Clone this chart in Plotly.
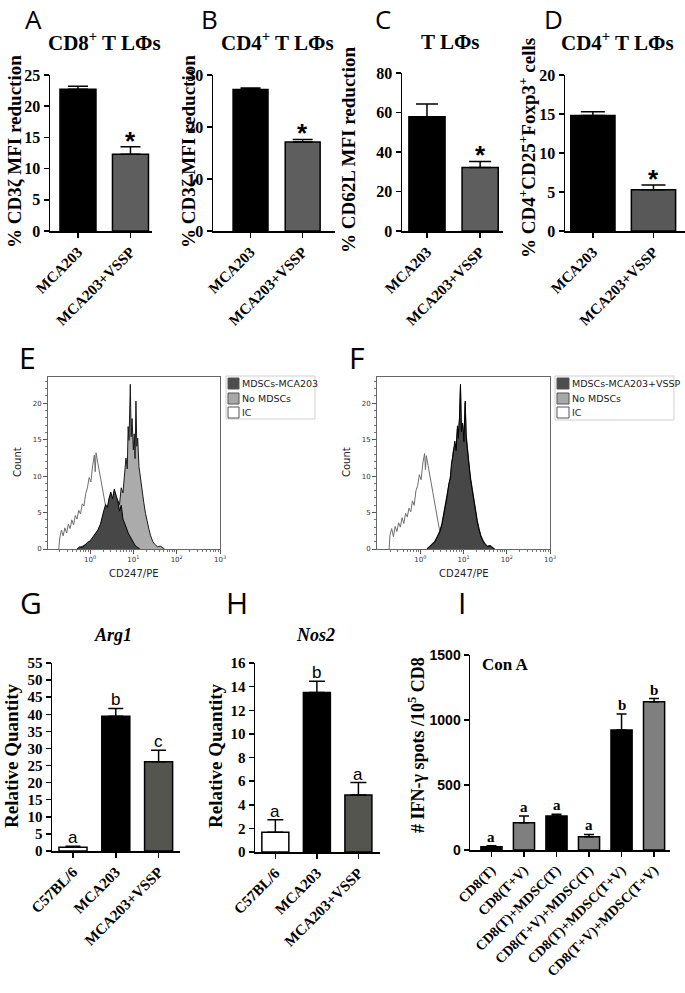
import numpy as np
import plotly.graph_objects as go

W, H = 685, 993
SERIF = "Liberation Serif"
SANS = "Liberation Sans"
LETTERF = "Open Sans"
HISTF = "DejaVu Sans"

# ---------------- data ----------------
ab_cats = ["MCA203", "MCA203+VSSP"]
a_vals = [22.7, 12.3]
a_err = [0.5, 1.2]
b_vals = [27.2, 17.1]
b_err = [0.3, 0.5]
c_vals = [57.8, 32.2]
c_err = [6.5, 3.0]
d_vals = [14.8, 5.3]
d_err = [0.5, 0.6]
ab_marks = ["", "*"]

gh_cats = ["C57BL/6", "MCA203", "MCA203+VSSP"]
g_vals = [1.07, 39.4, 26.1]
g_err = [0.35, 2.3, 3.4]
g_letters = ["a", "b", "c"]
h_vals = [1.67, 13.5, 4.83]
h_err = [1.05, 0.95, 1.05]
h_letters = ["a", "b", "a"]

i_cats = ["CD8(T)", "CD8(T+V)", "CD8(T)+MDSC(T)", "CD8(T+V)+MDSC(T)",
          "CD8(T)+MDSC(T+V)", "CD8(T+V)+MDSC(T+V)"]
i_vals = [25, 209, 262, 102, 923, 1140]
i_err = [8, 53, 13, 18, 123, 25]
i_letters = ["a", "a", "a", "a", "b", "b"]

# flow cytometry histograms (log10 CD247/PE, count)
e_ic_logx = [-0.72, -0.70, -0.66, -0.62, -0.58, -0.54, -0.50, -0.46, -0.42, -0.38, -0.34,
             -0.30, -0.26, -0.22, -0.18, -0.14, -0.10, -0.06, -0.02, 0.02, 0.06, 0.10,
             0.12, 0.14, 0.18, 0.22, 0.26, 0.30, 0.34, 0.38, 0.42, 0.46, 0.50, 0.54, 0.58]
e_ic_count = [0.0, 1.5, 2.6, 1.8, 2.9, 2.2, 3.4, 2.8, 4.0, 3.3, 4.6,
              4.1, 5.3, 4.8, 6.2, 5.9, 7.6, 8.4, 9.8, 9.2, 11.4, 12.9,
              10.6, 13.2, 11.8, 10.4, 9.1, 7.8, 6.4, 5.2, 3.9, 2.6, 1.3, 0.4, 0.0]
e_no_logx = [-0.30, -0.20, -0.10, 0.00, 0.10, 0.20, 0.30, 0.40, 0.48, 0.56, 0.62, 0.68,
             0.72, 0.76, 0.80, 0.83, 0.86, 0.88, 0.90, 0.93, 0.95, 0.97, 1.00, 1.02,
             1.04, 1.06, 1.08, 1.10, 1.13, 1.16, 1.20, 1.24, 1.28, 1.32, 1.36, 1.40,
             1.45, 1.50, 1.56, 1.62, 1.68, 1.72]
e_no_count = [0.0, 0.3, 0.5, 0.9, 1.3, 1.8, 2.6, 3.4, 4.6, 5.8, 6.9, 6.1,
              8.4, 7.7, 10.2, 12.5, 11.0, 16.8, 14.9, 22.6, 15.4, 17.9, 13.6, 15.8,
              12.4, 20.3, 14.1, 15.2, 11.3, 9.8, 8.6, 6.4, 4.9, 3.5, 2.7, 1.8,
              1.0, 0.6, 0.3, 0.4, 0.1, 0.0]
e_md_logx = [-0.30, -0.24, -0.18, -0.12, -0.06, 0.00, 0.06, 0.12, 0.18, 0.24, 0.28,
             0.32, 0.36, 0.40, 0.44, 0.48, 0.52, 0.56, 0.60, 0.64, 0.68, 0.72, 0.76,
             0.80, 0.84, 0.88, 0.92, 0.96, 1.00, 1.04, 1.08, 1.12, 1.15]
e_md_count = [0.0, 0.3, 0.2, 0.6, 0.9, 1.1, 1.6, 2.0, 2.6, 3.4, 4.6,
              5.3, 6.1, 5.7, 7.0, 7.8, 6.9, 8.2, 7.4, 6.6, 5.2, 6.0, 4.1,
              3.6, 2.9, 2.2, 1.8, 1.2, 0.9, 0.5, 0.3, 0.1, 0.0]

f_ic_logx = [-0.72, -0.70, -0.66, -0.62, -0.58, -0.54, -0.50, -0.46, -0.42, -0.38, -0.34,
             -0.30, -0.26, -0.22, -0.18, -0.14, -0.10, -0.06, -0.02, 0.02, 0.06, 0.10,
             0.12, 0.14, 0.18, 0.22, 0.26, 0.30, 0.34, 0.38, 0.42, 0.46, 0.50, 0.54, 0.58]
f_ic_count = [0.0, 1.9, 2.8, 1.7, 3.1, 2.4, 3.6, 3.0, 4.3, 3.5, 4.9,
              4.4, 5.6, 5.1, 6.6, 6.0, 8.0, 8.7, 10.2, 9.5, 11.8, 13.1,
              10.9, 12.8, 11.5, 10.1, 8.6, 7.2, 5.7, 4.5, 3.2, 2.1, 1.0, 0.3, 0.0]
f_no_logx = [0.15, 0.22, 0.28, 0.34, 0.40, 0.46, 0.50, 0.54, 0.58, 0.62, 0.66, 0.70,
             0.72, 0.76, 0.80, 0.83, 0.86, 0.88, 0.91, 0.93, 0.95, 0.98, 1.01, 1.04,
             1.06, 1.09, 1.12, 1.16, 1.20, 1.24, 1.28, 1.32, 1.36, 1.40, 1.45, 1.50,
             1.56, 1.62, 1.68, 1.72]
f_no_count = [0.0, 0.4, 0.7, 1.1, 1.8, 2.6, 3.5, 4.8, 5.9, 7.4, 8.6, 10.1,
              11.2, 13.3, 14.4, 13.9, 16.5, 15.6, 18.0, 22.4, 16.5, 17.0, 15.1, 20.0,
              15.8, 13.5, 12.2, 9.9, 8.4, 6.6, 5.2, 3.9, 2.8, 1.9, 1.2, 0.7,
              0.4, 0.5, 0.2, 0.0]
f_md_logx = [0.15, 0.22, 0.28, 0.34, 0.40, 0.46, 0.50, 0.54, 0.58, 0.62, 0.66, 0.70,
             0.72, 0.76, 0.80, 0.83, 0.86, 0.88, 0.91, 0.93, 0.95, 0.98, 1.01, 1.04,
             1.06, 1.09, 1.12, 1.16, 1.20, 1.24, 1.28, 1.32, 1.36, 1.40, 1.45, 1.50,
             1.56, 1.62, 1.68, 1.72]
f_md_count = [0.0, 0.3, 0.6, 1.0, 1.6, 2.4, 3.3, 4.5, 5.6, 7.1, 8.9, 9.7,
              11.6, 12.9, 14.8, 13.5, 16.9, 15.2, 18.4, 22.6, 16.1, 17.3, 14.7, 20.3,
              15.4, 13.1, 11.8, 9.6, 8.1, 6.3, 5.0, 3.6, 2.6, 1.7, 1.1, 0.6,
              0.3, 0.4, 0.1, 0.0]

e_legend = ["MDSCs-MCA203", "No MDSCs", "IC"]
f_legend = ["MDSCs-MCA203+VSSP", "No MDSCs", "IC"]
hist_ticks = [1, 10, 100, 1000]
hist_ticktext = ["10<sup>0</sup>", "10<sup>1</sup>", "10<sup>2</sup>", "10<sup>3</sup>"]

# ---------------- helpers ----------------
def px(x):
    return x / W

def py(y):
    return 1 - y / H

def xdom(a, b):
    return [a / W, b / W]

def ydom(top, bottom):
    return [1 - bottom / H, 1 - top / H]

fig = go.Figure()
layout = dict(template="none", width=W, height=H, margin=dict(l=0, r=0, t=0, b=0, pad=0),
              paper_bgcolor="white", plot_bgcolor="white", showlegend=False)
annotations = []
shapes = []

bar_panels = [
    dict(n=1, cats=ab_cats, vals=a_vals, err=a_err, x=(50, 152), y=(75, 231), xr=[-0.533, 1.41],
         yr=[0, 25], dt=5, w=0.686, colors=["#000000", "#5e5e5e"], cap=10, marks=ab_marks, mk="star"),
    dict(n=2, cats=ab_cats, vals=b_vals, err=b_err, x=(213, 335), y=(75, 231), xr=[-0.72, 1.62],
         yr=[0, 30], dt=10, w=0.67, colors=["#000000", "#5e5e5e"], cap=10, marks=ab_marks, mk="star"),
    dict(n=3, cats=ab_cats, vals=c_vals, err=c_err, x=(402, 503), y=(73, 231), xr=[-0.47, 1.43],
         yr=[0, 80], dt=20, w=0.68, colors=["#000000", "#5e5e5e"], cap=11, marks=ab_marks, mk="star"),
    dict(n=4, cats=ab_cats, vals=d_vals, err=d_err, x=(565, 685), y=(75, 231), xr=[-0.46, 1.52],
         yr=[0, 20], dt=5, w=0.73, colors=["#000000", "#585858"], cap=12, marks=ab_marks, mk="star"),
    dict(n=5, cats=gh_cats, vals=g_vals, err=g_err, x=(52, 180), y=(663, 851), xr=[-0.49, 2.5],
         yr=[0, 55], dt=5, w=0.655, colors=["#ffffff", "#000000", "#555550"], cap=7.5,
         marks=g_letters, mk="letter"),
    dict(n=6, cats=gh_cats, vals=h_vals, err=h_err, x=(255, 380), y=(663, 852), xr=[-0.49, 2.52],
         yr=[0, 16], dt=2, w=0.65, colors=["#ffffff", "#000000", "#555550"], cap=8,
         marks=h_letters, mk="letter"),
    dict(n=7, cats=i_cats, vals=i_vals, err=i_err, x=(470, 670), y=(655, 850), xr=[-0.66, 5.49],
         yr=[0, 1500], dt=500, w=0.65,
         colors=["#000000", "#7f7f7f", "#000000", "#7f7f7f", "#000000", "#7f7f7f"], cap=5,
         marks=i_letters, mk="iletter"),
]

for p in bar_panels:
    n = p["n"]
    sx = "" if n == 1 else str(n)
    xs = list(range(len(p["cats"])))
    fig.add_trace(go.Bar(
        x=xs, y=p["vals"], width=p["w"], xaxis="x" + sx, yaxis="y" + sx,
        marker=dict(color=p["colors"], line=dict(color="black", width=1.5)),
        error_y=dict(type="data", array=p["err"], arrayminus=[0] * len(xs), symmetric=False,
                     color="black", thickness=1.5, width=p["cap"]),
        hoverinfo="skip"))
    ytick_font = dict(family=SERIF, size=16 if n <= 4 else 15, color="black", weight="bold")
    if n == 7:
        ytick_font = dict(family=SANS, size=14, color="black", weight="bold")
    layout["xaxis" + sx] = dict(
        domain=xdom(*p["x"]), anchor="y" + sx, range=p["xr"], tickmode="array",
        tickvals=xs, ticktext=p["cats"], tickangle=-45, ticks="outside", ticklen=5,
        tickwidth=1.5, tickcolor="black", showline=True, linewidth=1.5, linecolor="black",
        showgrid=False, zeroline=False, fixedrange=True, automargin=False,
        tickfont=dict(family=SERIF, size=14 if n == 7 else 15, color="black", weight="bold"))
    layout["yaxis" + sx] = dict(
        domain=ydom(*p["y"]), anchor="x" + sx, range=p["yr"], dtick=p["dt"], tick0=0,
        ticks="outside", ticklen=5, tickwidth=1.5, tickcolor="black", showline=True,
        linewidth=1.5, linecolor="black", showgrid=False, zeroline=False, fixedrange=True,
        automargin=False, tickfont=ytick_font)
    for i, m in enumerate(p["marks"]):
        if not m:
            continue
        top = p["vals"][i] + p["err"][i]
        if p["mk"] == "star":
            annotations.append(dict(x=xs[i], y=top, xref="x" + sx, yref="y" + sx, text=m,
                                    showarrow=False, yanchor="bottom", yshift=-11,
                                    font=dict(family=SANS, size=26, color="black", weight="bold")))
        elif p["mk"] == "letter":
            annotations.append(dict(x=xs[i], y=top, xref="x" + sx, yref="y" + sx, text=m,
                                    showarrow=False, yanchor="bottom", yshift=-3,
                                    font=dict(family=SANS, size=17, color="black")))
        else:
            annotations.append(dict(x=xs[i], y=top, xref="x" + sx, yref="y" + sx, text=m,
                                    showarrow=False, yanchor="bottom", yshift=-1,
                                    font=dict(family=SERIF, size=15, color="black", weight="bold")))

# ---------------- histograms ----------------
minor_vals = [m * 10 ** k for k in range(-1, 3) for m in range(2, 10)]
hist_panels = [
    dict(n=8, x=(48, 220), series=[(e_ic_logx, e_ic_count, "#ffffff", "#6e6e6e"),
                                   (e_no_logx, e_no_count, "#ababab", "#1a1a1a"),
                                   (e_md_logx, e_md_count, "#474747", "#000000")],
         xr=[-0.97, 3.0]),
    dict(n=9, x=(377, 550), series=[(f_ic_logx, f_ic_count, "#ffffff", "#6e6e6e"),
                                    (f_no_logx, f_no_count, "#ababab", "#1a1a1a"),
                                    (f_md_logx, f_md_count, "#474747", "#000000")],
         xr=[-1.0, 3.0]),
]
for p in hist_panels:
    sx = str(p["n"])
    for lx, cnt, fc, lc in p["series"]:
        fig.add_trace(go.Scatter(x=np.power(10.0, np.array(lx)), y=cnt, mode="lines",
                                 fill="tozeroy", fillcolor=fc, line=dict(color=lc, width=1),
                                 xaxis="x" + sx, yaxis="y" + sx, hoverinfo="skip"))
    layout["xaxis" + sx] = dict(
        domain=xdom(*p["x"]), anchor="y" + sx, type="log", range=p["xr"], tickmode="array",
        tickvals=hist_ticks, ticktext=hist_ticktext, ticks="outside", ticklen=4, tickwidth=1,
        tickcolor="#555", showline=True, mirror=True, linewidth=1, linecolor="#666",
        showgrid=False, zeroline=False, fixedrange=True, automargin=False,
        tickfont=dict(family=HISTF, size=7, color="#333"),
        minor=dict(tickmode="array", tickvals=minor_vals, ticks="outside", ticklen=2,
                   tickcolor="#777", showgrid=False))
    layout["yaxis" + sx] = dict(
        domain=ydom(377, 549), anchor="x" + sx, range=[0, 23.6], dtick=5, tick0=0,
        ticks="outside", ticklen=4, tickwidth=1, tickcolor="#555", showline=True, mirror=True,
        linewidth=1, linecolor="#666", showgrid=False, zeroline=False, fixedrange=True,
        automargin=False, tickfont=dict(family=HISTF, size=7, color="#333"),
        minor=dict(dtick=1, ticks="outside", ticklen=2, tickcolor="#777", showgrid=False))

# legends for E and F
def legend_box(x0, x1, y0, y1, sw0, sw1, tx, labels):
    shapes.append(dict(type="rect", xref="paper", yref="paper", x0=px(x0), x1=px(x1),
                       y0=py(y1), y1=py(y0), line=dict(color="#cfcfcf", width=1),
                       fillcolor="white", layer="above"))
    rows = [(378, 389), (393, 404), (407, 418)]
    fills = ["#4d4d4d", "#a8a8a8", "#ffffff"]
    for (r0, r1), fc, lab in zip(rows, fills, labels):
        shapes.append(dict(type="rect", xref="paper", yref="paper", x0=px(sw0), x1=px(sw1),
                           y0=py(r1), y1=py(r0), line=dict(color="#555", width=1),
                           fillcolor=fc, layer="above"))
        annotations.append(dict(x=px(tx), y=py((r0 + r1) / 2), xref="paper", yref="paper",
                                text=lab, showarrow=False, xanchor="left", yanchor="middle",
                                font=dict(family=HISTF, size=9.5, color="#222")))

legend_box(226, 315, 376, 419, 228, 239, 240, e_legend)
legend_box(555, 674, 376, 420, 557, 569, 570, f_legend)

# ---------------- text ----------------
def txt(x, y, text, size, family, bold=True, italic=False, angle=0, color="black"):
    annotations.append(dict(x=px(x), y=py(y), xref="paper", yref="paper", text=text,
                            showarrow=False, xanchor="center", yanchor="middle", textangle=angle,
                            font=dict(family=family, size=size, color=color,
                                      weight="bold" if bold else "normal",
                                      style="italic" if italic else "normal")))

# panel letters
for lab, x, y, s in [("A", 33, 19, 26), ("B", 209, 19, 26), ("C", 383, 19, 26),
                     ("D", 553, 19, 26), ("E", 27, 357, 30), ("F", 356, 357, 30),
                     ("G", 31, 602, 30), ("H", 237, 602, 30), ("I", 462, 602, 30)]:
    txt(x, y, lab, s, LETTERF, bold=False)

# panel titles
txt(104, 42, "CD8<sup>+</sup> T LΦs", 21, SERIF)
txt(277, 42, "CD4<sup>+</sup> T LΦs", 21, SERIF)
txt(450, 42, "T LΦs", 21, SERIF)
txt(617, 42, "CD4<sup>+</sup> T LΦs", 21, SERIF)
txt(113, 635, "Arg1", 18, SERIF, italic=True)
txt(315, 635, "Nos2", 18, SERIF, italic=True)
txt(505, 664, "Con A", 17, SERIF)

# y titles
txt(14, 152, "% CD3ζ MFI reduction", 19, SERIF, angle=-90)
txt(188, 152, "% CD3ζ MFI reduction", 19, SERIF, angle=-90)
txt(349, 150, "% CD62L MFI reduction", 19, SERIF, angle=-90)
txt(527, 148, "% CD4<sup>+</sup>CD25<sup>+</sup>Foxp3<sup>+</sup> cells", 19, SERIF, angle=-90)
txt(11, 756, "Relative Quantity", 19, SERIF, angle=-90)
txt(215, 756, "Relative Quantity", 19, SERIF, angle=-90)
txt(416, 745, "# IFN-γ spots /10<sup>5</sup> CD8", 18, SERIF, angle=-90)

# histogram axis titles
txt(17, 462, "Count", 10, HISTF, bold=False, angle=-90, color="#222")
txt(346, 462, "Count", 10, HISTF, bold=False, angle=-90, color="#222")
txt(134, 573, "CD247/PE", 10, HISTF, bold=False, color="#222")
txt(464, 573, "CD247/PE", 10, HISTF, bold=False, color="#222")

layout["annotations"] = annotations
layout["shapes"] = shapes
fig.update_layout(**layout)
fig.write_html("out.html", config={"displayModeBar": False, "staticPlot": True},
               post_script="document.body.style.margin='0';document.body.style.padding='0';")
